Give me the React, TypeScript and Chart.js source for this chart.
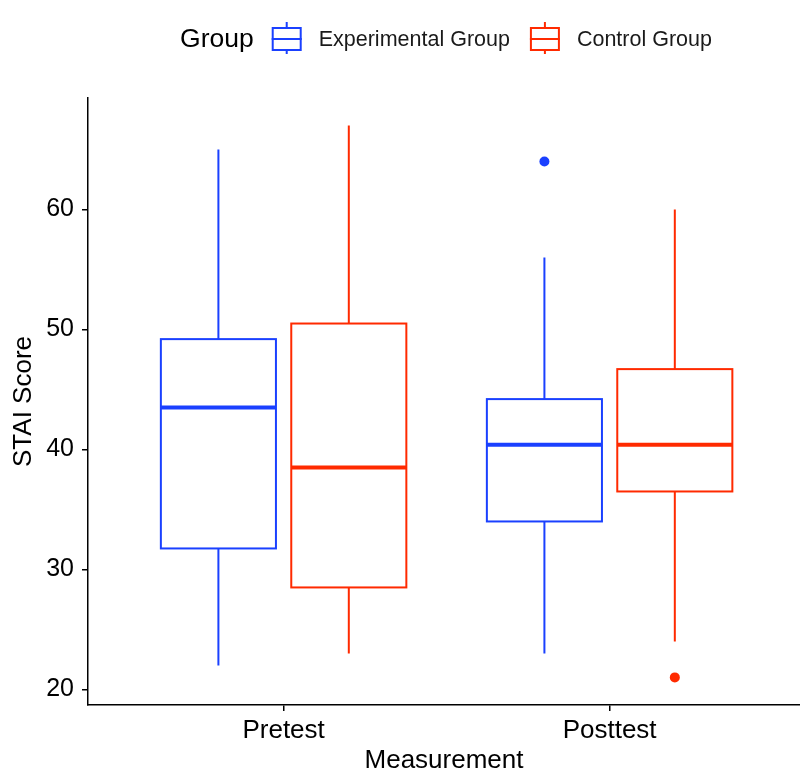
import React, { useEffect, useRef } from 'react';
import { Chart, registerables } from 'chart.js';

Chart.register(...registerables);

// ---- data ----
const categories = ['Pretest', 'Posttest'];
const groups = ['Experimental Group', 'Control Group'];
const yTicks = [20, 30, 40, 50, 60];

const expLow = [22, 23];
const expQ1 = [31.75, 34];
const expMedian = [43.5, 40.4];
const expQ3 = [49.2, 44.2];
const expHigh = [65, 56];
const expOutliers: number[][] = [[], [64]];

const ctlLow = [23, 24];
const ctlQ1 = [28.5, 36.5];
const ctlMedian = [38.5, 40.4];
const ctlQ3 = [50.5, 46.7];
const ctlHigh = [67, 60];
const ctlOutliers: number[][] = [[], [21]];

// ---- styling ----
const COLORS = ['#1A40FF', '#FF2A00'];
const FONT = "'Liberation Sans', Arial, Helvetica, sans-serif";
const GROUP_OFFSET = [-0.2, 0.2];
const BOX_HALF = 0.1765;

const boxStats = [
  { low: expLow, q1: expQ1, med: expMedian, q3: expQ3, high: expHigh, out: expOutliers },
  { low: ctlLow, q1: ctlQ1, med: ctlMedian, q3: ctlQ3, high: ctlHigh, out: ctlOutliers },
];

const boxPlugin = {
  id: 'boxes',
  beforeDatasetsDraw(chart: any) {
    const { ctx, scales } = chart;
    const xs = scales.x;
    const ys = scales.y;
    ctx.save();
    boxStats.forEach((g, gi) => {
      const color = COLORS[gi];
      categories.forEach((_, ci) => {
        const cx = ci + 1 + GROUP_OFFSET[gi];
        const xc = xs.getPixelForValue(cx);
        const xl = xs.getPixelForValue(cx - BOX_HALF);
        const xr = xs.getPixelForValue(cx + BOX_HALF);
        const yLow = ys.getPixelForValue(g.low[ci]);
        const yQ1 = ys.getPixelForValue(g.q1[ci]);
        const yMed = ys.getPixelForValue(g.med[ci]);
        const yQ3 = ys.getPixelForValue(g.q3[ci]);
        const yHigh = ys.getPixelForValue(g.high[ci]);
        ctx.strokeStyle = color;
        ctx.lineWidth = 2;
        ctx.lineCap = 'butt';
        // whiskers
        ctx.beginPath();
        ctx.moveTo(xc, yQ3);
        ctx.lineTo(xc, yHigh);
        ctx.moveTo(xc, yQ1);
        ctx.lineTo(xc, yLow);
        ctx.stroke();
        // box
        ctx.fillStyle = '#ffffff';
        ctx.fillRect(xl, yQ3, xr - xl, yQ1 - yQ3);
        ctx.strokeRect(xl, yQ3, xr - xl, yQ1 - yQ3);
        // median
        ctx.lineWidth = 4;
        ctx.beginPath();
        ctx.moveTo(xl, yMed);
        ctx.lineTo(xr, yMed);
        ctx.stroke();
      });
    });
    ctx.restore();
  },
};

const legendPlugin = {
  id: 'ggLegend',
  afterDraw(chart: any) {
    const { ctx, chartArea } = chart;
    ctx.save();
    const titleFont = `26.5px ${FONT}`;
    const labelFont = `21.5px ${FONT}`;
    ctx.font = titleFont;
    const titleW = ctx.measureText('Group').width;
    ctx.font = labelFont;
    const labelWs = groups.map((g) => ctx.measureText(g).width);
    const iconW = 30;
    const gapTitle = 18;
    const gapIcon = 17;
    const gapItem = 20;
    let total = titleW + gapTitle;
    labelWs.forEach((w, i) => {
      total += iconW + gapIcon + w + (i < labelWs.length - 1 ? gapItem : 0);
    });
    const cy = 39;
    let x = (chartArea.left + chartArea.right) / 2 + 2 - total / 2;
    ctx.fillStyle = '#000';
    ctx.textBaseline = 'middle';
    ctx.textAlign = 'left';
    ctx.font = titleFont;
    ctx.fillText('Group', x, cy + 1);
    x += titleW + gapTitle;
    groups.forEach((g, i) => {
      const c = COLORS[i];
      ctx.strokeStyle = c;
      ctx.lineWidth = 2;
      const mx = x + iconW / 2;
      ctx.beginPath();
      ctx.moveTo(mx, cy - 17);
      ctx.lineTo(mx, cy - 11);
      ctx.moveTo(mx, cy + 11);
      ctx.lineTo(mx, cy + 15);
      ctx.moveTo(x, cy);
      ctx.lineTo(x + iconW, cy);
      ctx.stroke();
      ctx.strokeRect(x + 1, cy - 11, iconW - 2, 22);
      x += iconW + gapIcon;
      ctx.fillStyle = '#1a1a1a';
      ctx.font = labelFont;
      ctx.fillText(g, x, cy + 1);
      x += labelWs[i] + gapItem;
    });
    ctx.restore();
  },
};

export default function App() {
  const ref = useRef<HTMLCanvasElement | null>(null);

  useEffect(() => {
    document.body.style.margin = '0';
    if (!ref.current) return;
    const datasets = boxStats.map((g, gi) => ({
      label: groups[gi],
      data: g.out.flatMap((vals, ci) => vals.map((v) => ({ x: ci + 1 + GROUP_OFFSET[gi], y: v }))),
      backgroundColor: COLORS[gi],
      borderColor: COLORS[gi],
      borderWidth: 0,
      pointRadius: 5,
      pointHoverRadius: 5,
    }));

    const chart = new Chart(ref.current, {
      type: 'scatter',
      data: { datasets },
      options: {
        responsive: false,
        animation: false,
        events: [],
        layout: { autoPadding: false, padding: { top: 98, left: 0, right: 0, bottom: 0 } },
        plugins: {
          legend: { display: false },
          tooltip: { enabled: false },
        },
        scales: {
          x: {
            type: 'linear',
            min: 0.4,
            max: 2.584,
            afterBuildTicks: (axis: any) => {
              axis.ticks = categories.map((_, i) => ({ value: i + 1 }));
            },
            afterFit: (axis: any) => {
              axis.height = 66;
              axis.paddingLeft = 0;
              axis.paddingRight = 0;
            },
            ticks: {
              color: '#000',
              font: { family: FONT, size: 26 },
              padding: 4,
              maxRotation: 0,
              autoSkip: false,
              callback: (v: any) => categories[Math.round(Number(v)) - 1] ?? '',
            },
            grid: {
              display: true,
              drawOnChartArea: false,
              drawTicks: true,
              tickLength: 6,
              color: '#000',
              lineWidth: 1.5,
            },
            border: { display: true, color: '#000', width: 1.5 },
            title: {
              display: true,
              text: 'Measurement',
              color: '#000',
              font: { family: FONT, size: 26, lineHeight: 0.75 },
              padding: { top: 0, bottom: 0 },
            },
          },
          y: {
            type: 'linear',
            min: 18.7,
            max: 69.3,
            afterBuildTicks: (axis: any) => {
              axis.ticks = yTicks.map((v) => ({ value: v }));
            },
            afterFit: (axis: any) => {
              axis.width = 88;
              axis.paddingTop = 0;
              axis.paddingBottom = 0;
            },
            ticks: {
              color: '#000',
              font: { family: FONT, size: 25 },
              padding: 8,
            },
            grid: {
              display: true,
              drawOnChartArea: false,
              drawTicks: true,
              tickLength: 6,
              color: '#000',
              lineWidth: 1.5,
            },
            border: { display: true, color: '#000', width: 1.5 },
            title: {
              display: true,
              text: 'STAI Score',
              color: '#000',
              font: { family: FONT, size: 26 },
              padding: { top: 8, bottom: 0 },
            },
          },
        },
      },
      plugins: [boxPlugin, legendPlugin],
    });
    return () => chart.destroy();
  }, []);

  return (
    <div style={{ width: 800, height: 771, background: '#fff' }}>
      <canvas ref={ref} width={800} height={771} />
    </div>
  );
}
